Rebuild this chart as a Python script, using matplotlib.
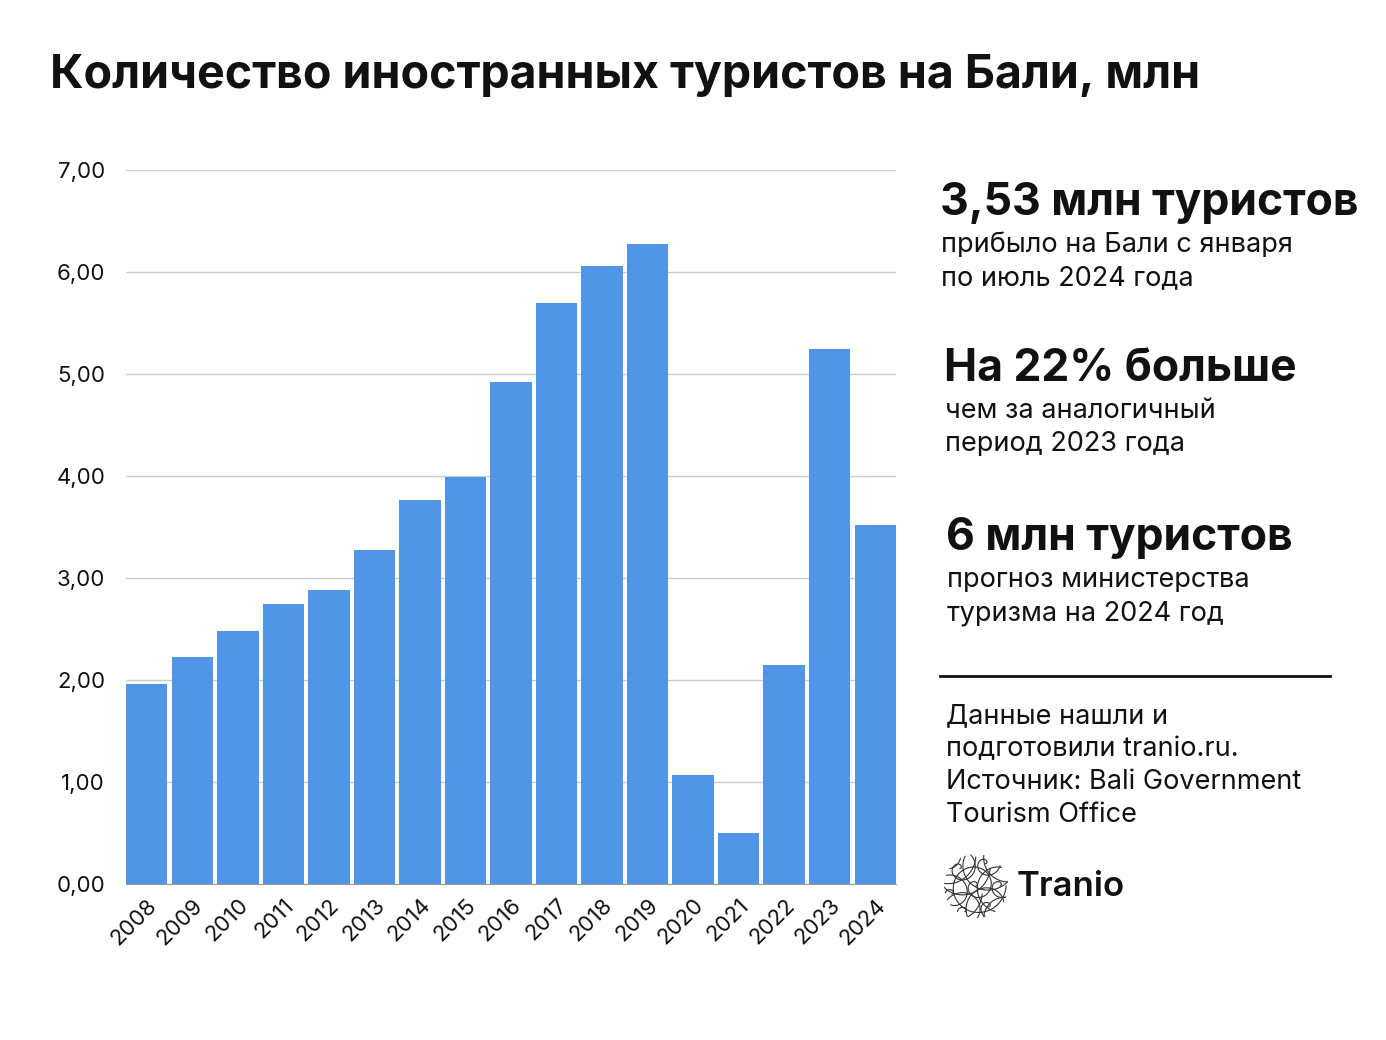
import numpy as np
import matplotlib.pyplot as plt
from matplotlib.patches import Circle

plt.rcParams['font.family'] = ['Inter', 'DejaVu Sans']

years = ['2008', '2009', '2010', '2011', '2012', '2013', '2014', '2015', '2016',
         '2017', '2018', '2019', '2020', '2021', '2022', '2023', '2024']
tourists = [1.96, 2.23, 2.48, 2.75, 2.88, 3.27, 3.76, 3.99, 4.92,
            5.70, 6.06, 6.27, 1.07, 0.50, 2.15, 5.25, 3.52]
yticks = [0, 1, 2, 3, 4, 5, 6, 7]

W, H = 1386, 1040
fig = plt.figure(figsize=(W / 100, H / 100), dpi=100)
fig.patch.set_facecolor('white')


def px(x, y):
    return x / W, 1 - y / H


ax = fig.add_axes([126 / W, 1 - 884 / H, (896 - 126) / W, (884 - 170) / H])
bw = 0.91
x = np.arange(len(years))
ax.bar(x, tourists, width=bw, color='#5196e6', zorder=3)
ax.set_xlim(-bw / 2, len(years) - 1 + bw / 2)
ax.set_ylim(0, 7)
ax.set_yticks(yticks)
ax.set_yticklabels([f'{v:.2f}'.replace('.', ',') for v in yticks], fontsize=16)
ax.set_xticks(x)
ax.set_xticklabels(years, rotation=45, ha='right', rotation_mode='anchor', fontsize=16)
ax.tick_params(axis='both', length=0, colors='#111111')
ax.tick_params(axis='y', pad=15)
ax.tick_params(axis='x', pad=8)
ax.grid(axis='y', color='#cccccc', lw=1, zorder=0)
for s in ['top', 'right', 'left']:
    ax.spines[s].set_visible(False)
ax.spines['bottom'].set_color('#999999')
ax.spines['bottom'].set_zorder(4)

fig.text(*px(50, 76), 'Количество иностранных туристов на Бали, млн',
         fontsize=33.5, fontweight='bold', va='center', ha='left', color='#111111')

blocks = [
    (940, 203, '3,53 млн туристов', ['прибыло на Бали с января', 'по июль 2024 года']),
    (944, 369, 'На 22% больше', ['чем за аналогичный', 'период 2023 года']),
    (946, 538, '6 млн туристов', ['прогноз министерства', 'туризма на 2024 год']),
]
for bx, by, head, lines in blocks:
    fig.text(*px(bx, by), head, fontsize=32, fontweight='bold', va='center',
             ha='left', color='#111111')
    for i, ln in enumerate(lines):
        fig.text(*px(bx + 1, by + 42 + 33 * i), ln, fontsize=19.5, va='center',
                 ha='left', color='#111111')

fig.add_artist(plt.Line2D([940 / W, 1330 / W], [1 - 676 / H] * 2, color='#111111',
                          lw=2, transform=fig.transFigure))

source = ['Данные нашли и', 'подготовили tranio.ru.', 'Источник: Bali Government',
          'Tourism Office']
for i, ln in enumerate(source):
    fig.text(*px(946, 716 + 33 * i), ln, fontsize=19.5, va='center', ha='left',
             color='#111111')

# logo
lax = fig.add_axes([944 / W, 1 - 918 / H, 64 / W, 64 / H])
lax.set_xlim(-1, 1)
lax.set_ylim(-1, 1)
lax.set_aspect('equal')
lax.axis('off')
clip = Circle((0, 0), 1, transform=lax.transData)
t = np.linspace(0, 4 * np.pi, 200)
for cx, cy in [(-0.5, 0.55), (0.3, 0.7), (0.75, 0.0), (-0.75, -0.25), (0.0, 0.0),
               (0.4, -0.65), (-0.35, -0.8), (-0.95, 0.9), (0.95, 0.95), (0.95, -0.95)]:
    r = 0.075 * t
    ln, = lax.plot(cx + r * np.cos(t), cy + r * np.sin(t), color='#333333', lw=0.8)
    ln.set_clip_path(clip)
fig.text(*px(1017, 887), 'Tranio', fontsize=25, va='center', ha='left',
         color='#111111', fontweight='semibold')

fig.savefig('out.png', dpi=100, facecolor='white')
